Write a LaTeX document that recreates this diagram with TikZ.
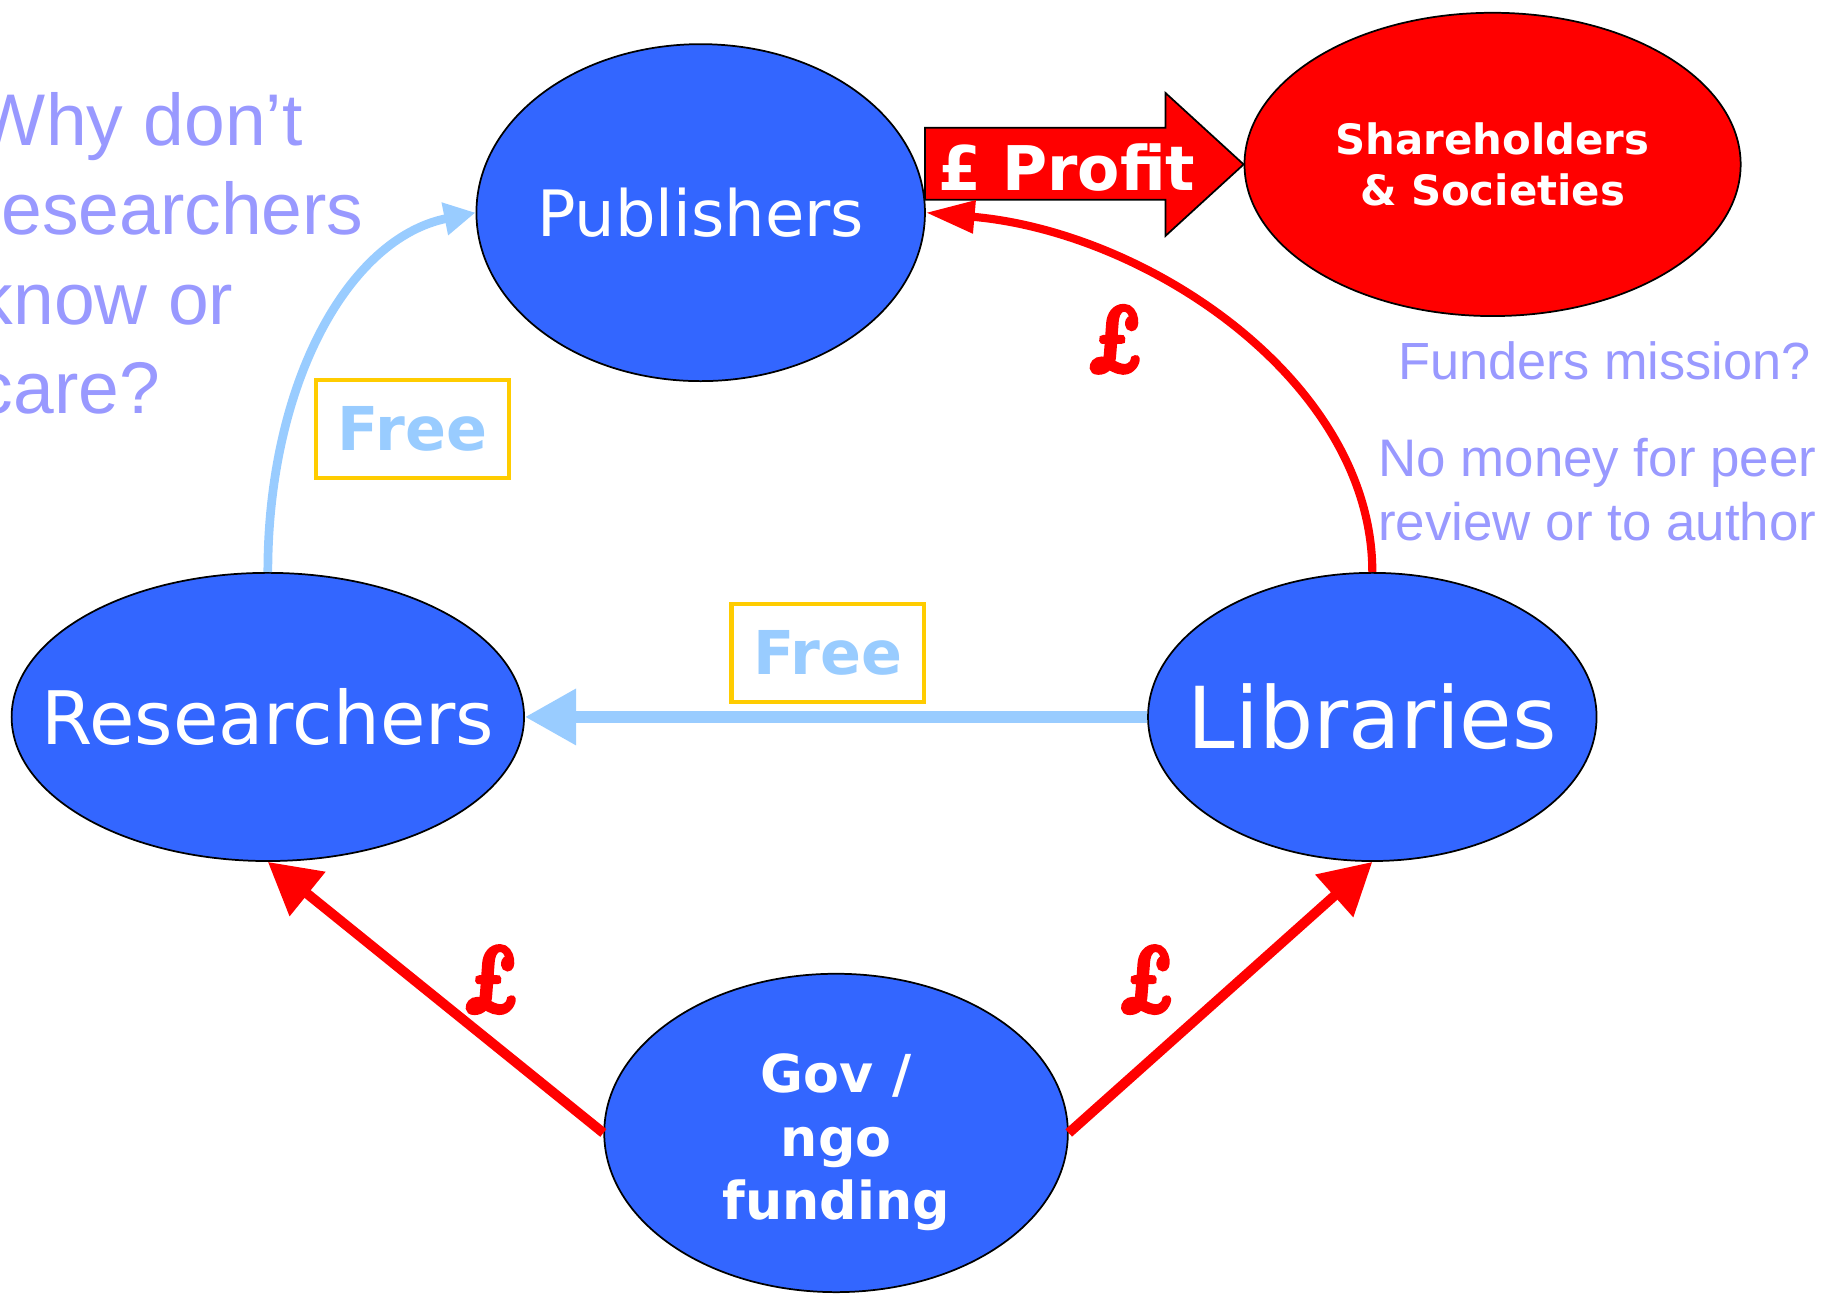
\documentclass[tikz,border=0pt]{standalone}
\usepackage{fontspec}
\usetikzlibrary{shapes.geometric,arrows.meta}
\newfontfamily\vfont{DejaVu Sans}
\newfontfamily\afont{Liberation Sans}
\newfontfamily\poundfont{Latin Modern Roman}[BoldItalicFeatures={FakeBold=5, FakeSlant=-0.12, FakeStretch=0.78}]
\definecolor{nodeblue}{HTML}{3366FF}
\definecolor{lightblue}{HTML}{99CCFF}
\definecolor{gold}{HTML}{FFCC00}
\definecolor{lilac}{HTML}{9999FF}
\definecolor{pured}{HTML}{FF0000}
\tikzset{
  ellnode/.style={ellipse, draw=black, line width=1.5pt, fill=nodeblue, text=white, inner sep=0pt},
  rednode/.style={ellipse, draw=black, line width=1.5pt, fill=pured, text=white, inner sep=0pt},
  freebox/.style={draw=gold, line width=3.5pt, minimum width=166pt, minimum height=84pt,
    text=lightblue, font=\vfont\bfseries\fontsize{52}{52}\selectfont, inner sep=0pt},
  money/.style={text=pured, font=\poundfont\bfseries\itshape\fontsize{80}{80}\selectfont, inner sep=0pt},
  redflow/.style={draw=pured, line width=8.5pt, -{Triangle[length=44pt,width=47pt]}},
  redcurve/.style={draw=pured, line width=7pt, -{Triangle[length=42pt,width=27pt]}},
  bluecurve/.style={draw=lightblue, line width=7.5pt, -{Triangle[length=27pt,width=27pt]}},
  blueflow/.style={draw=lightblue, line width=10pt, -{Triangle[length=44pt,width=46pt]}},
  profitshape/.style={draw=black, line width=1.5pt, fill=pured, line join=miter},
  note/.style={text=lilac, inner sep=0pt}
}
\begin{document}
\begin{tikzpicture}[x=1pt,y=-1pt]
\useasboundingbox (0,0) rectangle (1568,1113);
\clip (0,0) rectangle (1568,1113);

% nodes
\node[ellnode, minimum width=386pt, minimum height=290pt,
  font=\vfont\fontsize{55}{60}\selectfont] (pub) at (603,183) {\makebox[0pt]{Publishers}};
\node[rednode, minimum width=427pt, minimum height=261pt, align=center,
  font=\vfont\bfseries\fontsize{36}{44}\selectfont] (sh) at (1284.5,141.5) {Shareholders\\\& Societies};
\node[ellnode, minimum width=441pt, minimum height=248pt,
  font=\vfont\fontsize{63.5}{70}\selectfont] (res) at (230.5,617) {\makebox[0pt]{Researchers}};
\node[ellnode, minimum width=386pt, minimum height=248pt,
  font=\vfont\fontsize{73.5}{80}\selectfont] (lib) at (1181,617) {\makebox[0pt]{Libraries}};
\node[ellnode, minimum width=399pt, minimum height=274pt] (gov) at (719.5,975) {};
\node[text=white, inner sep=0pt, align=center,
  font=\vfont\bfseries\fontsize{45}{55}\selectfont] (govtext) at (719.5,983) {Gov /\\ngo\\funding};

% profit arrow
\draw[profitshape] (796,110) -- (1003,110) -- (1003,80) -- (sh.west) -- (1003,203) -- (1003,172) -- (796,172) -- cycle;
\node[text=white, inner sep=0pt, font=\vfont\bfseries\fontsize{53}{53}\selectfont] (profit) at (918,144) {£ Profit};

% connectors
\draw[bluecurve] (res.north) .. controls (230.5,330) and (300,205) .. (pub.west);
\draw[redcurve] (lib.north) .. controls (1181,330) and (990,200) .. (pub.east);
\draw[blueflow] (lib.west) -- (res.east);
\draw[redflow] (gov.west) -- (res.south);
\draw[redflow] (gov.east) -- (lib.south);

% labels
\node[freebox] (free1) at (355,369) {Free};
\node[freebox] (free2) at (712.5,562) {Free};
\node[money] (m1) at (961,292) {£};
\node[money] (m2) at (424,843) {£};
\node[money] (m3) at (988,843) {£};

% side texts
\node[note, anchor=north west, align=left, font=\afont\fontsize{63}{77}\selectfont] (why) at (-20,79)
  {Why don’t\\researchers\\know or\\care?};
\node[note, anchor=base west, font=\afont\fontsize{45}{55}\selectfont] (fund) at (1203,327) {Funders mission?};
\node[note, anchor=north west, align=left, font=\afont\fontsize{45.5}{55}\selectfont] (peer) at (1186,377)
  {No money for peer\\review or to author};
\end{tikzpicture}
\end{document}
